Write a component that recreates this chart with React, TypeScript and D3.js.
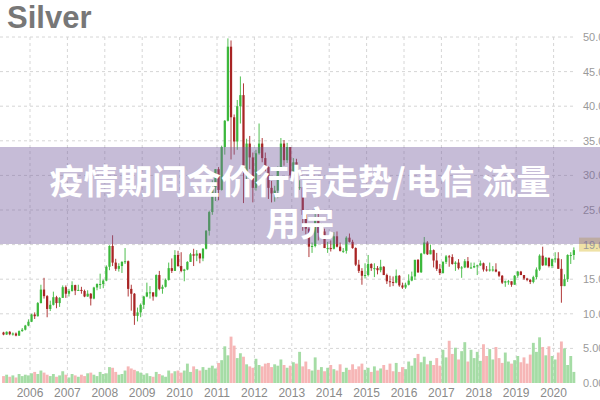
import React from 'react';
import * as d3 from 'd3';

const TITLE = 'Silver';
const OVERLAY_LINES = ['疫情期间金价行情走势/电信 流量', '用完'];
const YEAR_TICKS = [2006, 2007, 2008, 2009, 2010, 2011, 2012, 2013, 2014, 2015, 2016, 2017, 2018, 2019, 2020];
const PRICE_TICKS = [0, 5, 10, 15, 20, 25, 30, 35, 40, 45, 50];
const LAST_PRICE_LABEL = '19.00';
const LAST_PRICE_TICK = 20;
const FIRST_MONTH = new Date(2005, 3, 1);
const END_MONTH = new Date(2020, 7, 1);

const OPEN = [
  7.30, 7.00, 7.40, 7.05, 7.15, 6.85, 7.50, 7.70, 8.30,
  8.85, 9.90, 9.65, 11.55, 13.50, 12.55, 10.70, 11.30, 12.40, 11.55, 12.30, 13.85,
  12.90, 13.30, 14.15, 13.35, 13.45, 13.30, 12.50, 12.90, 12.20, 13.80, 14.30, 14.30,
  14.80, 16.80, 19.80, 17.40, 16.50, 16.90, 17.50, 17.60, 13.60, 12.90, 9.70, 10.20,
  11.30, 12.50, 13.10, 13.10, 12.50, 15.60, 13.60, 13.90, 14.90, 16.60, 16.20, 18.50,
  16.90, 16.20, 16.40, 17.50, 18.60, 18.40, 18.70, 18.00, 19.40, 22.00, 24.70, 28.30,
  30.90, 27.90, 34.10, 37.90, 48.60, 38.40, 34.90, 40.00, 41.60, 30.50, 34.60, 32.60,
  28.20, 33.20, 34.60, 32.50, 31.20, 28.20, 27.40, 27.80, 31.20, 34.60, 32.20, 34.10,
  30.00, 31.90, 28.30, 28.30, 24.30, 22.30, 19.70, 19.80, 23.60, 21.70, 21.90, 19.50,
  19.50, 19.40, 21.20, 19.70, 19.10, 19.10, 21.00, 20.40, 19.50, 17.10, 16.20, 15.50,
  15.60, 17.20, 16.60, 16.60, 16.30, 16.80, 15.60, 14.70, 14.60, 14.50, 15.50, 14.10,
  13.80, 14.20, 14.80, 15.40, 17.80, 16.00, 18.70, 20.30, 18.60, 19.20, 17.70, 16.50,
  15.90, 17.50, 18.30, 18.20, 17.20, 17.40, 16.60, 16.70, 17.60, 16.70, 16.70, 16.90,
  17.00, 17.30, 16.40, 16.30, 16.40, 16.40, 16.10, 15.50, 14.50, 14.70, 14.70, 14.20,
  15.50, 16.10, 15.60, 15.10, 14.90, 14.60, 15.30, 16.40, 18.40, 17.00, 18.10, 16.90,
  17.90, 18.00, 16.50, 14.00, 15.00, 18.50, 18.50,
];

const HIGH = [
  7.40, 7.45, 7.50, 7.30, 7.30, 7.60, 7.95, 8.40, 9.20,
  10.00, 10.20, 11.70, 14.20, 15.20, 12.70, 11.90, 13.20, 12.60, 12.40, 14.10, 14.10,
  13.60, 14.70, 14.20, 14.20, 13.90, 13.50, 13.40, 13.00, 13.90, 14.40, 15.80, 14.95,
  17.00, 19.90, 21.35, 17.95, 17.30, 17.60, 19.50, 17.70, 14.20, 13.00, 10.90, 11.50,
  12.60, 14.50, 14.00, 13.10, 15.70, 16.20, 14.20, 15.10, 17.40, 18.00, 19.20, 19.10,
  18.90, 16.50, 17.60, 18.80, 19.40, 19.20, 18.80, 19.50, 22.10, 24.90, 29.30, 30.90,
  31.20, 34.30, 38.00, 49.80, 49.50, 38.80, 40.90, 44.30, 43.30, 35.30, 35.70, 33.30,
  33.70, 37.50, 35.40, 33.30, 31.30, 29.20, 28.50, 31.30, 35.40, 35.10, 34.70, 34.10,
  32.50, 32.40, 29.30, 28.30, 24.60, 22.50, 20.30, 25.10, 24.80, 23.10, 22.30, 20.40,
  20.60, 21.80, 21.90, 20.30, 19.50, 21.20, 21.60, 20.70, 19.60, 17.80, 16.60, 17.30,
  18.50, 17.30, 17.30, 16.90, 17.80, 16.90, 15.80, 15.50, 15.40, 16.40, 15.60, 14.50,
  14.50, 15.70, 16.10, 17.80, 17.90, 18.80, 21.10, 20.50, 20.00, 19.30, 18.80, 17.20,
  17.60, 18.50, 18.50, 18.60, 17.60, 17.90, 16.90, 17.90, 18.20, 17.40, 17.40, 17.10,
  17.70, 17.40, 16.90, 17.40, 16.90, 17.30, 16.10, 15.60, 14.80, 14.90, 14.70, 15.60,
  16.20, 16.20, 15.60, 15.20, 15.00, 15.50, 16.70, 18.60, 19.70, 18.20, 18.10, 18.00,
  18.90, 18.90, 17.90, 15.70, 18.60, 18.90, 19.60,
];

const LOW = [
  6.90, 6.95, 6.90, 6.85, 6.75, 6.80, 7.40, 7.60, 8.20,
  8.80, 9.25, 9.60, 11.50, 12.20, 9.50, 10.40, 11.20, 10.80, 11.00, 12.30, 12.30,
  12.50, 13.20, 12.70, 13.30, 12.90, 12.40, 12.45, 11.20, 12.10, 13.40, 13.60, 13.70,
  14.70, 16.30, 16.90, 16.20, 16.10, 15.90, 17.20, 12.50, 10.45, 8.40, 8.90, 9.50,
  10.70, 12.40, 12.20, 11.90, 12.40, 13.40, 12.90, 13.80, 14.80, 15.90, 16.20, 16.80,
  16.00, 14.70, 16.30, 17.50, 16.90, 17.60, 17.30, 17.60, 19.30, 21.30, 24.30, 26.30,
  26.40, 27.80, 33.00, 37.80, 32.30, 33.00, 33.70, 37.50, 26.00, 29.00, 30.90, 26.10,
  27.80, 33.00, 31.90, 30.60, 26.60, 26.10, 26.20, 26.70, 31.00, 31.40, 31.80, 29.60,
  29.90, 28.00, 27.90, 22.00, 21.50, 18.20, 18.80, 19.60, 20.60, 21.00, 19.50, 18.80,
  19.00, 19.30, 19.60, 19.00, 18.80, 18.70, 20.30, 19.40, 16.90, 15.90, 14.20, 15.10,
  15.40, 16.20, 15.30, 15.70, 16.00, 15.60, 14.30, 13.90, 14.00, 14.40, 13.90, 13.60,
  13.60, 14.10, 14.70, 14.90, 15.90, 15.90, 18.60, 18.50, 18.60, 16.70, 16.20, 15.60,
  15.80, 17.20, 16.80, 17.10, 16.20, 16.40, 15.20, 16.60, 16.60, 16.50, 16.60, 15.60,
  16.90, 16.10, 16.10, 16.10, 16.10, 16.00, 15.30, 14.30, 13.90, 14.20, 13.90, 14.20,
  15.20, 15.60, 14.90, 14.70, 14.30, 14.40, 15.00, 16.20, 16.90, 17.00, 16.70, 16.60,
  17.40, 16.50, 11.60, 14.00, 14.60, 17.20, 17.80,
];

const CLOSE = [
  7.00, 7.40, 7.05, 7.15, 6.85, 7.50, 7.70, 8.30, 8.85,
  9.90, 9.65, 11.55, 13.50, 12.55, 10.70, 11.30, 12.40, 11.55, 12.30, 13.85, 12.90,
  13.30, 14.15, 13.35, 13.45, 13.30, 12.50, 12.90, 12.20, 13.80, 14.30, 14.30, 14.80,
  16.80, 19.80, 17.40, 16.50, 16.90, 17.50, 17.60, 13.60, 12.90, 9.70, 10.20, 11.30,
  12.50, 13.10, 13.10, 12.50, 15.60, 13.60, 13.90, 14.90, 16.60, 16.20, 18.50, 16.90,
  16.20, 16.40, 17.50, 18.60, 18.40, 18.70, 18.00, 19.40, 22.00, 24.70, 28.30, 30.90,
  27.90, 34.10, 37.90, 48.60, 38.40, 34.90, 40.00, 41.60, 30.50, 34.60, 32.60, 28.20,
  33.20, 34.60, 32.50, 31.20, 28.20, 27.40, 27.80, 31.20, 34.60, 32.20, 34.10, 30.00,
  31.90, 28.30, 28.30, 24.30, 22.30, 19.70, 19.80, 23.60, 21.70, 21.90, 19.50, 19.50,
  19.40, 21.20, 19.70, 19.10, 19.10, 21.00, 20.40, 19.50, 17.10, 16.20, 15.50, 15.60,
  17.20, 16.60, 16.60, 16.30, 16.80, 15.60, 14.70, 14.60, 14.50, 15.50, 14.10, 13.80,
  14.20, 14.80, 15.40, 17.80, 16.00, 18.70, 20.30, 18.60, 19.20, 17.70, 16.50, 15.90,
  17.50, 18.30, 18.20, 17.20, 17.40, 16.60, 16.70, 17.60, 16.70, 16.70, 16.90, 17.00,
  17.30, 16.40, 16.30, 16.40, 16.40, 16.10, 15.50, 14.50, 14.70, 14.70, 14.20, 15.50,
  16.10, 15.60, 15.10, 14.90, 14.60, 15.30, 16.40, 18.40, 17.00, 18.10, 16.90, 17.90,
  18.00, 16.50, 14.00, 15.00, 18.50, 18.50, 19.20,
];

const VOLUME = [
  1.0, 1.2, 0.9, 1.1, 0.8, 1.3, 1.0, 1.2, 1.1,
  1.4, 1.6, 1.3, 1.8, 1.5, 1.2, 1.0, 1.3, 0.9, 1.1, 1.7, 1.2,
  0.8, 1.3, 1.1, 0.9, 1.2, 1.0, 1.4, 1.5, 1.2, 1.0, 1.6, 1.3,
  1.4, 2.3, 2.2, 1.6, 1.2, 1.3, 1.8, 2.4, 2.1, 1.9, 1.7, 1.5,
  1.2, 1.4, 1.0, 0.9, 1.6, 1.3, 1.1, 0.9, 1.8, 1.4, 1.7, 1.8,
  1.5, 1.8, 2.8, 1.6, 2.4, 2.0, 1.8, 2.3, 1.9, 2.2, 2.5, 2.1,
  2.9, 3.3, 5.3, 4.0, 6.7, 5.4, 3.6, 4.3, 3.8, 2.7, 2.4, 2.2,
  3.5, 2.6, 2.4, 2.8, 2.9, 2.3, 2.7, 2.5, 3.4, 2.6, 2.2, 2.5,
  3.0, 2.8, 4.5, 2.4, 3.1, 2.0, 1.8, 3.7, 1.9, 2.3, 1.7, 2.2,
  2.6, 2.0, 1.8, 2.7, 1.6, 2.2, 1.9, 2.7, 2.0, 2.4, 2.8, 1.9,
  2.2, 1.6, 2.4, 1.8, 2.1, 2.6, 1.9, 2.8, 1.7, 2.9, 1.6, 2.3,
  2.0, 3.1, 2.5, 3.6, 4.2, 3.0, 3.8, 2.7, 3.2, 2.6, 3.6, 2.5,
  4.8, 3.7, 6.1, 4.2, 5.1, 3.4, 4.6, 5.9, 3.1, 4.8, 3.6, 4.5,
  3.2, 5.6, 3.9, 4.9, 3.4, 5.2, 3.6, 2.9, 4.4, 3.1, 2.8, 3.3,
  3.9, 3.0, 3.7, 2.8, 4.1, 5.8, 4.5, 6.6, 5.2, 4.0, 5.3, 3.9,
  3.4, 4.4, 6.0, 5.0, 2.6, 3.9, 1.6,
];

export default function App() {
  const W = 600;
  const H = 400;
  const x = d3.scaleLinear().domain([2006, 2020]).range([30, 553.6]);
  const y = d3.scaleLinear().domain([0, 50]).range([383, 37]);
  const yv = d3.scaleLinear().domain([0, 7]).range([383, 383 - 7 * 6.92]);
  const months = d3.timeMonth.range(FIRST_MONTH, END_MONTH);
  const data = months.map((d, i) => ({
    t: d.getFullYear() + (d.getMonth() + 0.5) / 12,
    o: OPEN[i], h: HIGH[i], l: LOW[i], c: CLOSE[i], v: VOLUME[i],
  })).filter((d) => d.o !== undefined);
  const step = x(2006 + 1 / 12) - x(2006);
  const bodyW = step * 0.72;
  const volW = step * 0.92;
  const upC = '#3cb83c';
  const downC = '#a82424';
  const upV = '#9bd89b';
  const downV = '#f5aeae';
  const font = '"Liberation Sans", Arial, sans-serif';

  return (
    <svg width={W} height={H} style={{ position: 'absolute', left: 0, top: 0, display: 'block', background: '#fff' }}>
      <rect x={0} y={0} width={W} height={H} fill="#fff" />
      <text x={7} y={28} fontFamily={font} fontWeight={700} fontSize={31} fill="#777">{TITLE}</text>
      {PRICE_TICKS.filter((p) => p > 0).map((p) => (
        <line key={'h' + p} x1={0} x2={576} y1={y(p)} y2={y(p)} stroke="#d6d6d6" strokeWidth={1} strokeDasharray="3,3" />
      ))}
      {YEAR_TICKS.map((yr) => (
        <line key={'v' + yr} x1={x(yr)} x2={x(yr)} y1={y(50)} y2={383} stroke="#d6d6d6" strokeWidth={1} strokeDasharray="3,3" />
      ))}
      {data.map((d, i) => (
        <rect key={'vol' + i} x={x(d.t) - volW / 2} width={volW} y={yv(d.v)} height={yv(0) - yv(d.v)}
          fill={d.c >= d.o ? upV : downV} opacity={0.9} />
      ))}
      {data.map((d, i) => {
        const col = d.c >= d.o ? upC : downC;
        const top = y(Math.max(d.o, d.c));
        const bot = y(Math.min(d.o, d.c));
        return (
          <g key={'c' + i}>
            <line x1={x(d.t)} x2={x(d.t)} y1={y(d.h)} y2={y(d.l)} stroke={col} strokeWidth={0.9} />
            <rect x={x(d.t) - bodyW / 2} width={bodyW} y={top} height={Math.max(1, bot - top)} fill={col} />
          </g>
        );
      })}
      {PRICE_TICKS.filter((p) => p !== LAST_PRICE_TICK).map((p) => (
        <text key={'pl' + p} x={583} y={y(p) + 4} fontFamily={font} fontSize={11} fill="#9a9a9a">{p.toFixed(2)}</text>
      ))}
      <rect x={579} y={y(LAST_PRICE_TICK) - 7} width={22} height={14} fill="#efe2a6" />
      <text x={583} y={y(LAST_PRICE_TICK) + 4} fontFamily={font} fontSize={11} fill="#9a9a9a">{LAST_PRICE_LABEL}</text>
      {YEAR_TICKS.map((yr) => (
        <text key={'yl' + yr} x={x(yr)} y={397} textAnchor="middle" fontFamily={font} fontSize={12} fill="#8a8a8a">{yr}</text>
      ))}
      <rect x={0} y={147} width={W} height={97} fill="rgb(120,95,160)" opacity={0.42} />
      {OVERLAY_LINES.map((s, i) => (
        <text key={'ov' + i} x={300} y={194 + i * 42} textAnchor="middle" fontFamily='"Noto Sans CJK SC", "Noto Sans", sans-serif'
          fontWeight={700} fontSize={34.3} fill="#fff">{s}</text>
      ))}
    </svg>
  );
}
